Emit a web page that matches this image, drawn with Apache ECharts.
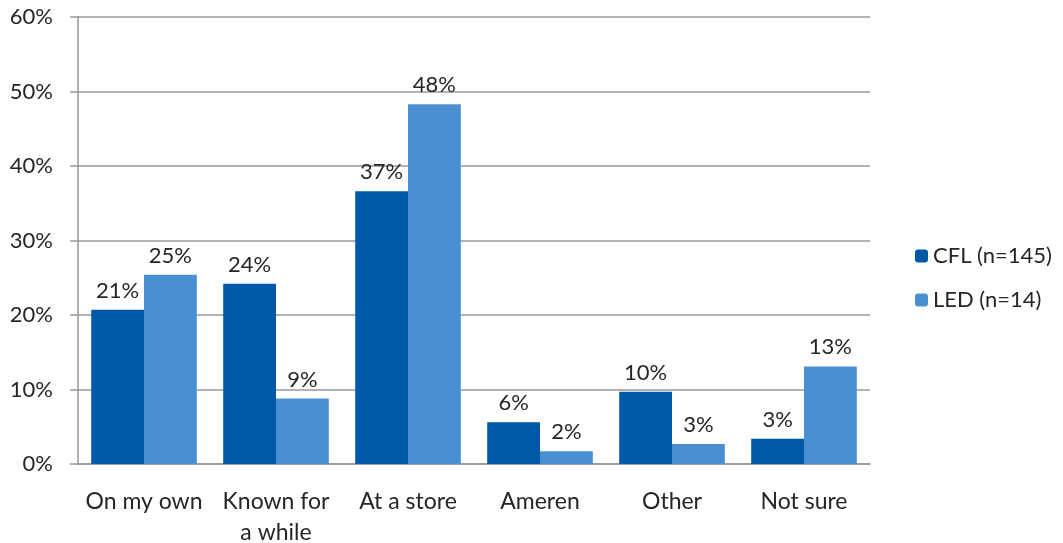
<!DOCTYPE html>
<html>
<head>
<meta charset="utf-8">
<script src="https://cdn.jsdelivr.net/npm/echarts@6/dist/echarts.min.js"></script>
<style>
html, body { margin: 0; padding: 0; background: #fff; }
#chart { width: 1063px; height: 543px; }
</style>
</head>
<body>
<div id="chart"></div>
<script>
// data
const categories = ['On my own', 'Known for\na while', 'At a store', 'Ameren', 'Other', 'Not sure'];
const cflValues = [20.7, 24.2, 36.6, 5.6, 9.7, 3.4];
const ledValues = [25.4, 8.8, 48.3, 1.7, 2.7, 13.1];
const seriesNames = ['CFL (n=145)', 'LED (n=14)'];

const textColor = '#262626';
const font = 'Lato, "Open Sans", sans-serif';

const chart = echarts.init(document.getElementById('chart'));

const barLabel = {
    show: true,
    position: 'top',
    distance: 8,
    color: textColor,
    fontFamily: font,
    fontSize: 22,
    formatter: (p) => Math.round(p.value) + '%'
};

const option = {
    animation: false,
    textStyle: { fontFamily: font },
    grid: {
        left: 78,
        top: 17,
        width: 792,
        height: 447,
        outerBoundsMode: 'none'
    },
    legend: {
        orient: 'vertical',
        left: 910,
        top: 240,
        itemWidth: 13,
        itemHeight: 13,
        itemGap: 22,
        textStyle: { color: textColor, fontSize: 22, fontFamily: font },
        data: seriesNames
    },
    xAxis: {
        type: 'category',
        data: categories,
        axisLine: { lineStyle: { color: '#999', width: 1.5 } },
        axisTick: { show: false },
        axisLabel: {
            interval: 0,
            color: textColor,
            fontSize: 23,
            fontFamily: font,
            margin: 22,
            lineHeight: 31
        }
    },
    yAxis: {
        type: 'value',
        min: 0,
        max: 60,
        interval: 10,
        axisLine: { show: true, lineStyle: { color: '#999', width: 1.5 } },
        axisTick: { show: true, length: 8, lineStyle: { color: '#999', width: 1.5 } },
        splitLine: { lineStyle: { color: '#999', width: 1.5 } },
        axisLabel: {
            color: textColor,
            fontSize: 22,
            fontFamily: font,
            margin: 25,
            formatter: '{value}%'
        }
    },
    series: [
        {
            name: seriesNames[0],
            type: 'bar',
            data: cflValues,
            barGap: '0%',
            barCategoryGap: '20%',
            itemStyle: { color: '#0059A8' },
            label: barLabel
        },
        {
            name: seriesNames[1],
            type: 'bar',
            data: ledValues,
            itemStyle: { color: '#4A8FD0' },
            label: barLabel
        }
    ]
};

chart.setOption(option);
</script>
</body>
</html>
